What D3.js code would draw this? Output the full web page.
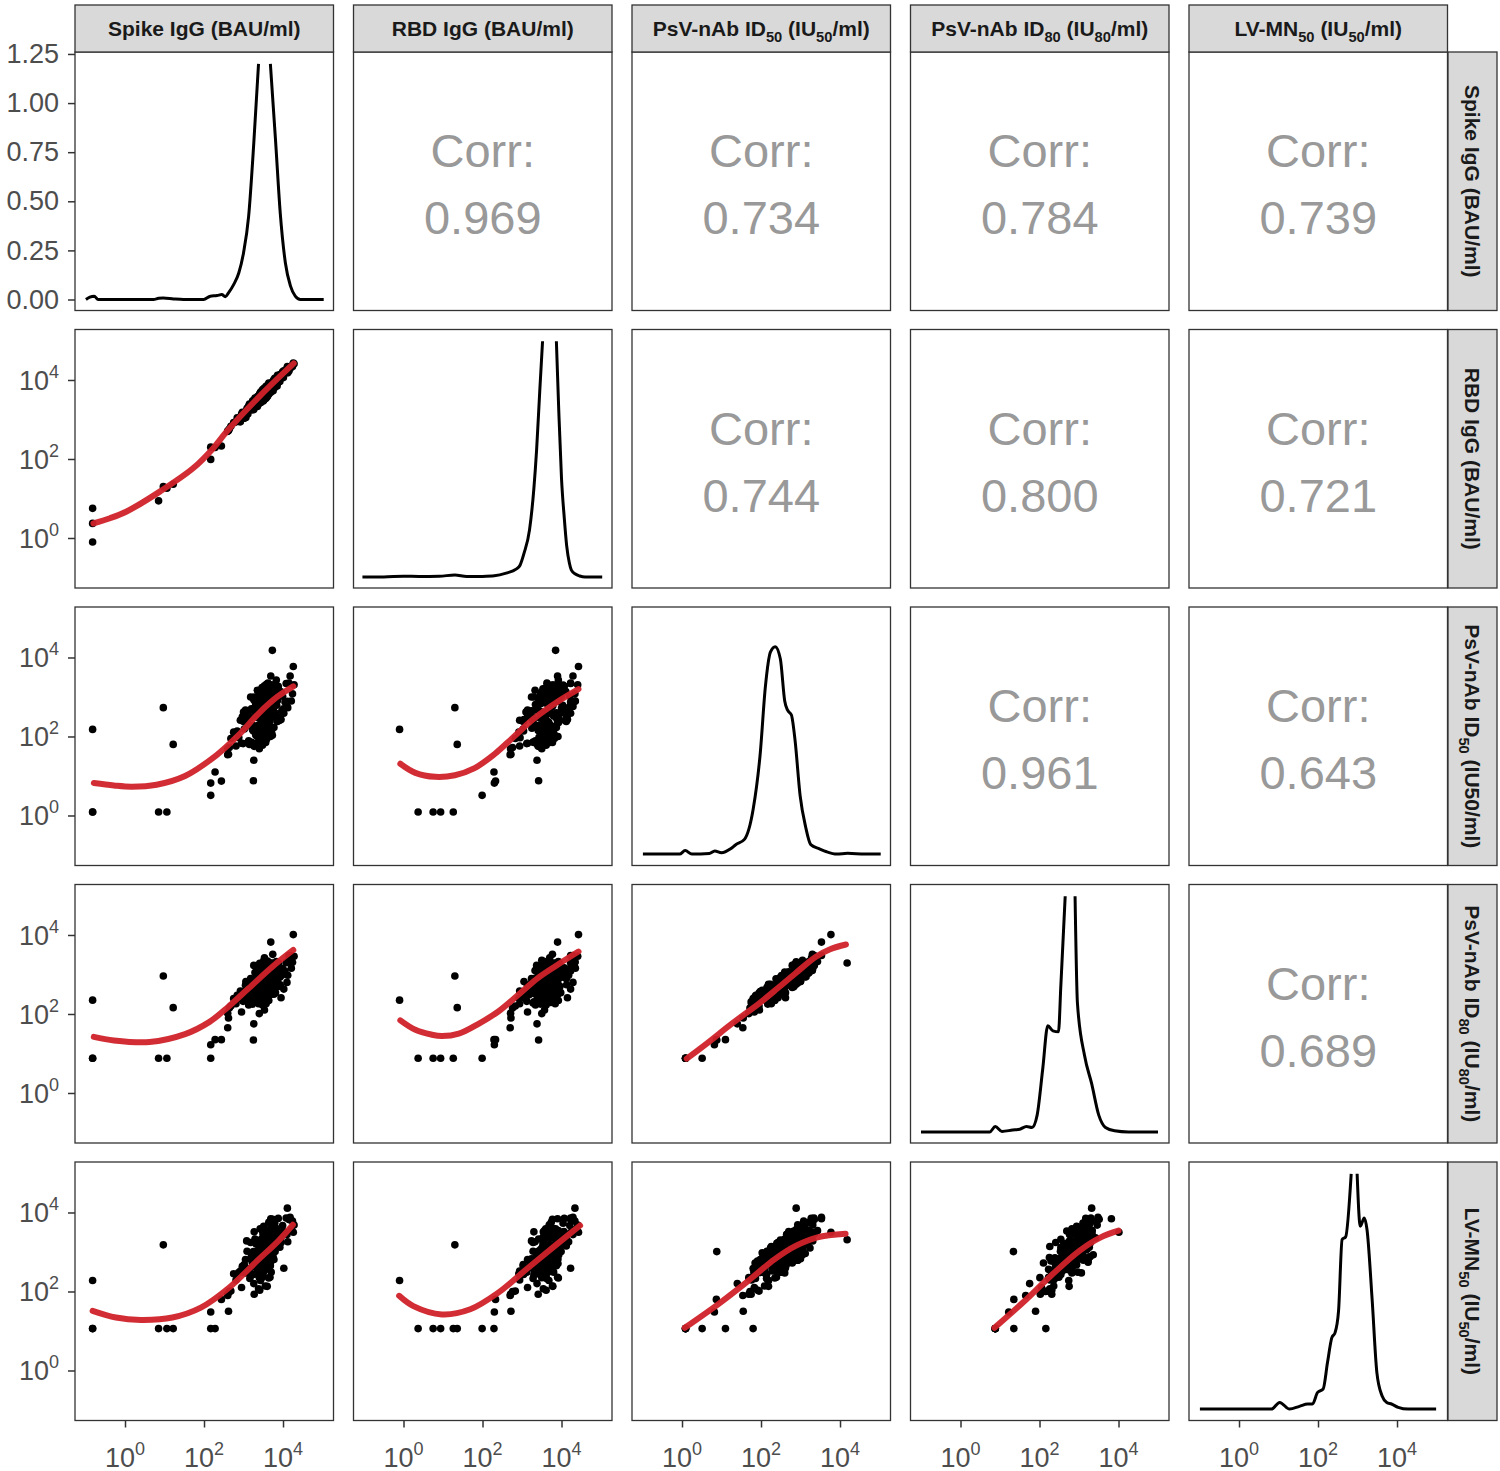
<!DOCTYPE html>
<html><head><meta charset="utf-8">
<script src="https://cdn.jsdelivr.net/npm/d3@7"></script>
<style>body{margin:0;background:#fff;} svg{display:block;}</style>
</head><body>
<svg id="chart" width="1500" height="1471"></svg>
<script>
// ---------- DATA (log10 of titre per subject) ----------
const spikeLog10 = [-0.82,-0.82,-0.82,0.85,0.97,1.06,1.22,2.17,2.17,2.28,2.44,3.25,3.73,4.26,3.69,4.11,3.00,2.60,2.62,3.26,
3.52,3.31,3.78,2.95,3.64,3.45,4.02,3.18,3.58,3.71,
3.40,2.81,3.92,3.55,3.27,3.66,3.49,4.15,3.08,3.60,
3.36,3.83,3.50,2.68,3.74,3.43,3.22,3.57,3.95,3.47,
3.62,3.13,3.88,3.53,3.29,4.24,3.41,3.69,3.02,3.56,
3.34,3.79,3.48,2.88,3.67,3.51,4.08,3.25,3.61,3.38,
3.72,3.44,3.11,3.85,3.54,2.60,3.63,3.46,3.99,3.33,
3.59,3.20,3.76,3.50,4.12,3.39,3.68,2.99,3.55,3.81,
3.42,3.65,3.16,3.90,3.53,3.28,4.28,3.47,3.73,2.75,
3.58,3.37,3.86,3.49,3.05,3.70,3.44,4.05,3.24,3.61,
3.52,3.93,3.30,2.92,3.66,3.41,3.80,3.57,3.14,4.18,
3.46,3.75,3.35,3.62,2.84,3.54,3.97,3.26,3.68,3.48,
3.39,3.84,3.09,3.56,4.21,3.43,3.71,3.32,2.64,3.59,
3.50,3.89,3.21,3.64,3.45,4.10,3.36,3.77,3.00,3.53,
3.47,3.58,3.33,3.71,3.52,3.40,3.63,3.26,3.81,3.55,
3.44,3.67,3.50,3.36,3.75,3.59,3.18,3.49,3.92,3.62,
3.53,3.29,3.69,3.45,3.86,3.57,3.38,3.64,3.06,3.51,
3.41,3.73,3.55,3.23,3.60,3.48,4.01,3.35,3.66,3.54,
3.50,3.79,3.31,3.62,3.44,3.70,2.97,3.56,3.85,3.46,
3.57,3.37,3.68,3.52,3.27,3.95,3.43,3.61,3.15,3.74];

const rbdLog10 = [-0.10,0.37,0.75,0.94,1.30,1.26,1.36,1.99,2.30,2.29,2.33,3.42,3.85,4.43,3.90,4.34,3.10,2.70,2.72,3.38,
3.69,3.34,3.93,3.14,3.74,3.46,4.23,3.28,3.65,3.93,
3.46,2.94,3.96,3.75,3.41,3.75,3.72,4.23,3.24,3.71,
3.56,3.92,3.50,2.83,3.88,3.65,3.25,3.73,4.06,3.50,
3.71,3.34,4.07,3.55,3.42,4.34,3.61,3.81,3.03,3.74,
3.48,3.81,3.67,2.95,3.90,3.57,4.23,3.45,3.66,3.54,
3.87,3.68,3.14,3.95,3.72,2.71,3.66,3.59,4.21,3.39,
3.65,3.36,4.00,3.59,4.18,3.57,3.79,3.12,3.77,3.87,
3.60,3.66,3.28,4.11,3.60,3.49,4.41,3.51,3.90,2.92,
3.81,3.44,3.91,3.66,3.14,3.91,3.45,4.23,3.41,3.68,
3.54,4.13,3.45,2.94,3.77,3.65,3.99,3.60,3.32,4.29,
3.66,3.78,3.41,3.78,3.04,3.59,4.13,3.25,3.87,3.61,
3.47,4.03,3.28,3.57,4.35,3.62,3.78,3.53,2.76,3.63,
3.69,3.95,3.30,3.87,3.51,4.29,3.59,3.87,3.03,3.70,
3.72,3.56,3.50,3.75,3.79,3.50,3.64,3.47,3.98,3.60,
3.43,3.88,3.76,3.41,3.73,3.82,3.24,3.51,4.13,3.88,
3.57,3.54,3.69,3.66,4.12,3.54,3.52,3.92,3.05,3.69,
3.64,3.80,3.53,3.47,3.78,3.75,4.06,3.33,3.74,3.76,
3.47,4.04,3.50,3.63,3.70,3.80,3.18,3.77,3.85,3.49,
3.84,3.37,3.91,3.50,3.30,4.15,3.68,3.59,3.39,3.77];

const psv50Log10 = [2.18,0.09,0.09,0.09,2.73,0.09,1.80,0.51,0.82,1.10,0.87,0.88,4.18,3.77,3.53,2.89,2.62,1.54,1.55,1.40,
2.27,2.81,2.89,1.83,3.22,2.46,2.59,2.48,3.32,2.58,
2.82,1.76,2.41,2.74,1.75,2.99,2.59,3.35,2.64,2.29,
2.28,3.43,2.10,1.95,2.50,2.99,2.21,1.91,3.13,2.87,
2.80,1.89,3.27,2.38,2.97,3.08,1.92,3.01,2.19,3.05,
2.01,2.90,2.78,1.97,2.39,3.21,3.34,2.14,2.64,1.85,
3.24,2.35,2.57,2.40,2.78,1.69,2.36,3.07,3.02,2.66,
2.38,2.70,2.72,2.85,2.73,2.56,3.30,1.82,2.09,2.96,
2.93,2.58,1.86,3.14,2.93,2.16,3.31,1.87,3.15,2.11,
2.07,2.64,2.91,2.24,2.67,2.52,2.90,2.87,2.28,3.29,
2.87,2.47,2.23,2.41,2.79,1.97,3.01,2.36,2.29,3.53,
2.32,3.11,2.97,2.25,2.14,2.58,2.65,2.65,2.60,1.78,
3.06,2.79,2.40,3.05,2.90,2.14,2.78,2.55,1.72,2.23,
2.65,3.18,1.85,2.47,2.91,2.76,2.48,2.23,2.38,3.28,
3.24,2.24,2.53,2.11,2.85,1.69,3.14,2.93,2.59,2.51,
1.98,3.31,2.93,2.15,2.94,1.95,3.00,2.62,2.49,2.97,
1.96,2.89,2.93,3.19,2.38,3.03,1.87,2.35,2.43,3.11,
2.92,2.03,3.21,2.17,2.19,2.83,2.70,3.17,2.79,2.03,
2.60,3.30,2.04,3.35,1.85,2.52,2.50,1.85,3.00,3.12,
2.26,2.79,2.00,3.05,3.00,2.43,2.19,2.92,1.80,3.30];

const psv80Log10 = [2.35,0.88,0.88,0.88,2.96,0.88,2.16,0.88,1.22,1.35,1.35,1.34,3.29,4.01,3.82,3.32,2.41,1.65,1.90,1.75,
2.63,2.91,3.17,2.05,3.29,2.76,2.63,2.74,3.29,2.89,
2.87,2.26,2.70,2.87,2.31,2.96,2.80,3.48,2.76,2.65,
2.57,3.33,2.52,2.20,2.81,3.08,2.64,2.29,3.11,3.08,
3.03,2.23,3.17,2.73,3.05,3.31,2.31,3.03,2.49,3.04,
2.47,2.97,2.96,2.39,2.49,3.33,3.30,2.54,2.80,2.26,
3.25,2.68,2.63,2.69,3.04,2.02,2.73,3.07,3.15,2.77,
2.73,2.79,2.93,2.86,2.98,2.77,3.29,2.32,2.36,3.13,
3.02,2.91,2.28,3.11,3.11,2.39,3.46,2.34,3.08,2.39,
2.44,2.73,3.15,2.66,2.73,2.76,2.99,3.09,2.46,3.34,
2.89,2.74,2.62,2.58,2.96,2.39,3.03,2.74,2.51,3.48,
2.66,3.18,2.96,2.63,2.47,2.69,2.98,2.79,2.86,2.23,
3.20,3.05,2.53,3.09,3.16,2.39,3.01,2.61,2.15,2.51,
2.76,3.28,2.31,2.59,3.10,2.80,2.83,2.50,2.56,3.42,
3.08,2.75,2.55,2.60,3.26,2.01,2.94,3.23,2.54,2.94,
2.57,3.16,2.79,2.67,3.25,2.53,2.90,2.54,2.93,2.92,
2.10,2.75,3.26,3.03,2.89,2.94,2.47,2.34,2.82,2.94,
3.28,2.51,3.04,2.25,2.75,2.69,3.07,3.10,2.67,2.60,
3.06,3.10,2.56,3.23,2.44,2.97,2.49,2.39,2.82,3.09,
2.26,3.23,2.56,3.36,2.83,2.41,2.74,2.85,2.39,3.51];

const lvmn50Log10 = [2.28,1.06,1.06,1.06,3.18,1.06,1.06,1.06,1.48,1.06,1.80,3.01,3.31,3.50,3.84,4.11,2.60,1.90,1.50,2.20,
2.85,2.83,3.26,2.10,3.75,2.92,2.59,3.24,3.49,2.93,
2.94,2.29,3.12,3.02,1.93,3.45,2.54,3.82,3.28,2.57,
2.96,3.54,2.55,2.01,3.06,3.05,2.74,2.77,3.37,2.89,
3.03,2.56,3.85,2.55,3.33,3.78,2.03,3.16,2.68,3.55,
2.56,3.57,2.86,2.48,2.36,3.54,3.86,2.43,3.28,2.07,
3.32,3.02,2.57,3.22,3.11,1.93,2.88,3.32,3.67,2.75,
2.85,2.89,3.45,2.87,3.26,2.96,3.48,2.49,2.14,3.42,
3.59,2.73,2.33,3.33,2.79,2.85,3.68,2.49,3.19,2.45,
2.72,2.68,3.32,2.97,2.81,2.82,2.82,3.49,2.81,3.42,
3.14,3.23,2.81,2.52,3.42,2.48,3.01,2.78,2.52,3.88,
2.69,3.60,2.93,3.03,2.43,3.18,3.44,2.79,2.65,2.36,
3.06,3.27,3.02,3.25,3.57,2.33,3.16,3.20,2.00,2.71,
3.44,3.22,2.42,2.78,3.32,3.44,2.49,2.81,2.65,3.36,
3.10,3.10,2.60,2.85,3.12,2.35,3.55,2.79,3.32,2.68,
2.81,3.28,3.44,3.02,2.87,2.66,2.83,3.11,3.30,3.06,
2.72,2.79,3.69,3.23,3.15,3.51,2.57,2.34,2.47,3.65,
2.88,2.83,3.37,2.86,2.13,3.53,3.52,3.26,2.72,2.98,
2.47,3.73,2.86,3.47,2.59,2.49,2.64,2.72,3.59,2.96,
3.14,2.74,2.71,2.93,3.51,3.24,2.28,3.11,2.58,3.83];

// diagonal densities: [log10 value, density]
const densSpike = [[-0.99,0],[-0.89,0.012],[-0.78,0.017],[-0.68,0],[-0.38,0],[0.72,0],[0.85,0.006],[0.97,0.008],[1.23,0.003],[1.48,0],[1.99,0],[2.16,0.017],[2.33,0.02],[2.45,0.025],[2.54,0.014],[2.62,0.034],[2.75,0.076],[2.88,0.135],[3.0,0.237],[3.13,0.424],[3.26,0.796],[3.38,1.2],[3.45,1.9],[3.53,2.2],[3.61,1.9],[3.68,1.2],[3.81,0.813],[3.93,0.44],[4.06,0.186],[4.19,0.068],[4.31,0.017],[4.44,0],[5.03,0]];
const densRbd = [[-1.04,0],[-0.5,0],[0.0,0.004],[0.4,0.003],[0.9,0.004],[1.3,0.01],[1.6,0.002],[2.0,0.003],[2.3,0.006],[2.6,0.02],[2.85,0.04],[2.95,0.06],[3.05,0.12],[3.19,0.24],[3.3,0.45],[3.37,0.65],[3.45,0.95],[3.52,1.2],[3.6,1.8],[3.8,1.8],[3.87,1.2],[3.93,0.85],[4.0,0.5],[4.07,0.3],[4.13,0.16],[4.2,0.07],[4.25,0.035],[4.35,0.015],[4.46,0.005],[4.6,0],[5.03,0]];
const densPsv50 = [[-0.99,0.002],[-0.06,0.002],[0.08,0.02],[0.25,0.002],[0.69,0.005],[0.83,0.018],[1.0,0.009],[1.23,0.029],[1.36,0.05],[1.58,0.077],[1.80,0.229],[1.98,0.514],[2.11,0.853],[2.24,1.031],[2.36,1.058],[2.49,0.995],[2.60,0.782],[2.67,0.736],[2.77,0.71],[2.86,0.585],[2.99,0.30],[3.13,0.14],[3.26,0.05],[3.48,0.029],[3.66,0.014],[3.92,0.002],[4.19,0.006],[4.63,0.002],[5.03,0.002]];
const densPsv80 = [[-1.0,0],[0.74,0],[0.88,0.028],[1.05,0.003],[1.32,0.01],[1.50,0.014],[1.67,0.028],[1.81,0.023],[1.94,0.086],[2.08,0.318],[2.21,0.541],[2.34,0.515],[2.48,0.51],[2.54,0.745],[2.65,1.2],[2.72,1.9],[2.83,1.9],[2.90,1.2],[2.96,0.656],[3.14,0.389],[3.32,0.246],[3.50,0.086],[3.67,0.023],[3.90,0.006],[4.25,0],[5.0,0]];
const densLvmn50 = [[-0.99,0.002],[0.82,0.002],[1.03,0.036],[1.28,0.002],[1.53,0.016],[1.74,0.028],[1.86,0.028],[1.99,0.087],[2.13,0.104],[2.24,0.239],[2.35,0.366],[2.43,0.39],[2.52,0.502],[2.61,0.865],[2.70,0.879],[2.84,1.2],[2.9,1.8],[2.95,1.8],[2.99,1.2],[3.07,0.933],[3.17,0.975],[3.24,0.916],[3.37,0.56],[3.49,0.188],[3.62,0.07],[3.74,0.036],[3.86,0.028],[4.03,0.011],[4.28,0.002],[4.99,0.002]];

// loess smooth curves: [log10 x, log10 y]
const smoothRbdSpike = [[-0.80,0.37],[-0.38,0.50],[0.04,0.67],[0.89,1.18],[1.73,1.77],[2.24,2.28],[2.58,2.70],[3.43,3.61],[4.27,4.42]];
const smoothPsv50Spike = [[-0.79,0.82],[-0.28,0.76],[0.17,0.73],[0.80,0.78],[1.52,1.0],[2.32,1.53],[2.86,2.02],[3.40,2.60],[3.85,3.0],[4.26,3.27]];
const smoothPsv50Rbd = [[-0.08,1.31],[0.3,1.08],[0.8,0.98],[1.3,1.02],[1.8,1.2],[2.3,1.55],[2.8,2.0],[3.3,2.45],[3.9,2.88],[4.43,3.20]];
const smoothPsv80Spike = [[-0.79,1.42],[-0.28,1.33],[0.62,1.29],[1.52,1.49],[2.14,1.80],[2.59,2.16],[3.13,2.65],[3.76,3.22],[4.26,3.62]];
const smoothPsv80Rbd = [[-0.08,1.84],[0.3,1.6],[0.7,1.48],[0.97,1.44],[1.4,1.5],[1.9,1.75],[2.41,2.07],[2.9,2.48],[3.40,2.91],[3.94,3.27],[4.43,3.58]];
const smoothPsv80Psv50 = [[0.12,0.87],[0.65,1.27],[1.27,1.76],[1.98,2.29],[2.42,2.65],[2.86,3.02],[3.39,3.45],[3.75,3.64],[4.15,3.76]];
const smoothLvSpike = [[-0.82,1.51],[-0.23,1.34],[0.40,1.28],[1.20,1.34],[1.92,1.59],[2.64,2.10],[3.35,2.78],[3.89,3.29],[4.25,3.69]];
const smoothLvRbd = [[-0.11,1.89],[0.25,1.63],[0.97,1.42],[1.69,1.55],[2.40,1.97],[3.12,2.57],[3.84,3.16],[4.47,3.67]];
const smoothLvPsv50 = [[0.07,1.08],[0.92,1.68],[1.63,2.23],[2.35,2.82],[2.89,3.16],[3.43,3.37],[4.14,3.46]];
const smoothLvPsv80 = [[0.86,1.08],[1.58,1.72],[2.29,2.40],[3.01,3.03],[3.55,3.37],[4.0,3.54]];

// correlations (upper triangle, row by row)
const corrUpper = [0.969, 0.734, 0.784, 0.739, 0.744, 0.800, 0.721, 0.961, 0.643, 0.689];

// labels: segments [text, "sub"?]
const colLabels = [
  [["Spike IgG (BAU/ml)"]],
  [["RBD IgG (BAU/ml)"]],
  [["PsV-nAb ID"],["50","sub"],[" (IU"],["50","sub"],["/ml)"]],
  [["PsV-nAb ID"],["80","sub"],[" (IU"],["80","sub"],["/ml)"]],
  [["LV-MN"],["50","sub"],[" (IU"],["50","sub"],["/ml)"]]
];
const rowLabels = [
  [["Spike IgG (BAU/ml)"]],
  [["RBD IgG (BAU/ml)"]],
  [["PsV-nAb ID"],["50","sub"],[" (IU50/ml)"]],
  [["PsV-nAb ID"],["80","sub"],[" (IU"],["80","sub"],["/ml)"]],
  [["LV-MN"],["50","sub"],[" (IU"],["50","sub"],["/ml)"]]
];
const logTicks = [0, 2, 4];
const densTicks = [0, 0.25, 0.5, 0.75, 1.0, 1.25];

// ---------- LAYOUT ----------
const PW = 258.5, COL0 = 75, COLSTEP = 278.5, ROW0 = 52, ROWSTEP = 277.5;
const colLeft = j => COL0 + j * COLSTEP;
const rowTop = i => ROW0 + i * ROWSTEP;
const FONT = "'Liberation Sans', Arial, Helvetica, sans-serif";

const svg = d3.select("#chart");
svg.append("rect").attr("width", 1500).attr("height", 1471).attr("fill", "#fff");
const defs = svg.append("defs");

const xLog = d3.scaleLog().domain([Math.pow(10, -1.266), Math.pow(10, 5.278)]).range([0, PW]);
const yLog = d3.scaleLog().domain([Math.pow(10, -1.266), Math.pow(10, 5.278)]).range([PW, 0]);
const yDens = d3.scaleLinear().domain([-0.056, 1.26]).range([PW, 0]);
const DENS_CAP = 1.2;

const vars = [spikeLog10, rbdLog10, psv50Log10, psv80Log10, lvmn50Log10];
const dens = [densSpike, densRbd, densPsv50, densPsv80, densLvmn50];
const smooths = new Map([
  ["1,0", smoothRbdSpike], ["2,0", smoothPsv50Spike], ["2,1", smoothPsv50Rbd],
  ["3,0", smoothPsv80Spike], ["3,1", smoothPsv80Rbd], ["3,2", smoothPsv80Psv50],
  ["4,0", smoothLvSpike], ["4,1", smoothLvRbd], ["4,2", smoothLvPsv50], ["4,3", smoothLvPsv80]
]);

function rich(textSel, segs, size) {
  let shifted = false;
  segs.forEach(([t, kind]) => {
    const ts = textSel.append("tspan").text(t);
    if (kind === "sub") {
      ts.attr("font-size", size * 0.7).attr("dy", shifted ? 0 : size * 0.28);
      shifted = true;
    } else {
      ts.attr("dy", shifted ? -size * 0.28 : 0);
      shifted = false;
    }
  });
}

let corrIdx = 0;
for (let i = 0; i < 5; i++) {
  for (let j = 0; j < 5; j++) {
    const g = svg.append("g").attr("transform", `translate(${colLeft(j)},${rowTop(i)})`);
    const cid = `clip-${i}-${j}`;
    defs.append("clipPath").attr("id", cid).append("rect").attr("width", PW).attr("height", PW);
    const content = g.append("g").attr("clip-path", `url(#${cid})`);

    if (i === j) {
      const line = d3.line()
        .defined(d => d[1] <= DENS_CAP + 1e-9)
        .x(d => xLog(Math.pow(10, d[0])))
        .y(d => yDens(d[1]))
        .curve(d3.curveMonotoneX);
      content.append("path").datum(dens[i]).attr("d", line)
        .attr("fill", "none").attr("stroke", "#000").attr("stroke-width", 3)
        .attr("stroke-linejoin", "round");
    } else if (i < j) {
      const v = corrUpper[corrIdx++];
      const t = g.append("g").attr("font-family", FONT).attr("font-size", 47)
        .attr("fill", "#999999").attr("text-anchor", "middle");
      t.append("text").attr("x", PW / 2).attr("y", 115).text("Corr:");
      t.append("text").attr("x", PW / 2).attr("y", 182).text(v.toFixed(3));
    } else {
      const xs = vars[j], ys = vars[i];
      const pts = xs.map((x, k) => [x, ys[k]]);
      content.append("g").selectAll("circle").data(pts).join("circle")
        .attr("cx", d => xLog(Math.pow(10, d[0])))
        .attr("cy", d => yLog(Math.pow(10, d[1])))
        .attr("r", 3.8).attr("fill", "#000");
      const sm = smooths.get(`${i},${j}`);
      const sline = d3.line()
        .x(d => xLog(Math.pow(10, d[0])))
        .y(d => yLog(Math.pow(10, d[1])))
        .curve(d3.curveCatmullRom.alpha(0.5));
      content.append("path").datum(sm).attr("d", sline)
        .attr("fill", "none").attr("stroke", "#d0222a").attr("stroke-width", 6)
        .attr("stroke-linecap", "round").attr("opacity", 0.95);
    }
    g.append("rect").attr("width", PW).attr("height", PW)
      .attr("fill", "none").attr("stroke", "#333").attr("stroke-width", 1.3);
  }
}

// ---------- STRIPS ----------
for (let j = 0; j < 5; j++) {
  svg.append("rect").attr("x", colLeft(j)).attr("y", 5).attr("width", PW).attr("height", 47)
    .attr("fill", "#d9d9d9").attr("stroke", "#333").attr("stroke-width", 1.3);
  const t = svg.append("text").attr("x", colLeft(j) + PW / 2).attr("y", 36)
    .attr("text-anchor", "middle").attr("font-family", FONT).attr("font-weight", "bold")
    .attr("font-size", 21).attr("fill", "#1a1a1a");
  rich(t, colLabels[j], 21);
}
for (let i = 0; i < 5; i++) {
  svg.append("rect").attr("x", 1448).attr("y", rowTop(i)).attr("width", 49).attr("height", PW)
    .attr("fill", "#d9d9d9").attr("stroke", "#333").attr("stroke-width", 1.3);
  const t = svg.append("text")
    .attr("transform", `translate(${1448 + 17},${rowTop(i) + PW / 2}) rotate(90)`)
    .attr("text-anchor", "middle").attr("font-family", FONT).attr("font-weight", "bold")
    .attr("font-size", 21).attr("fill", "#1a1a1a");
  rich(t, rowLabels[i], 21);
}

// ---------- AXES ----------
function styleAxis(a) {
  a.select(".domain").remove();
  a.selectAll(".tick line").attr("stroke", "#333").attr("stroke-width", 1.5);
  a.selectAll(".tick text").attr("fill", "#4d4d4d").attr("font-family", FONT).attr("font-size", 27);
}
function powLabel(sel, exp, anchor) {
  const t = sel.append("text").attr("text-anchor", anchor).attr("font-family", FONT)
    .attr("font-size", 27).attr("fill", "#4d4d4d");
  t.append("tspan").text("10");
  t.append("tspan").text(String(exp)).attr("font-size", 18).attr("dy", -12);
  return t;
}

// bottom axes
for (let j = 0; j < 5; j++) {
  const a = svg.append("g").attr("transform", `translate(${colLeft(j)},${rowTop(4) + PW})`)
    .call(d3.axisBottom(xLog).tickValues(logTicks.map(e => Math.pow(10, e))).tickSize(7).tickFormat(() => ""));
  styleAxis(a);
  logTicks.forEach(e => {
    powLabel(a, e, "middle").attr("transform", `translate(${xLog(Math.pow(10, e))},46)`);
  });
}
// left axes
{
  const a = svg.append("g").attr("transform", `translate(${colLeft(0)},${rowTop(0)})`)
    .call(d3.axisLeft(yDens).tickValues(densTicks).tickSize(7).tickPadding(9).tickFormat(d3.format(".2f")));
  styleAxis(a);
}
for (let i = 1; i < 5; i++) {
  const a = svg.append("g").attr("transform", `translate(${colLeft(0)},${rowTop(i)})`)
    .call(d3.axisLeft(yLog).tickValues(logTicks.map(e => Math.pow(10, e))).tickSize(7).tickFormat(() => ""));
  styleAxis(a);
  logTicks.forEach(e => {
    powLabel(a, e, "end").attr("transform", `translate(-16,${yLog(Math.pow(10, e)) + 10})`);
  });
}
</script>
</body></html>
